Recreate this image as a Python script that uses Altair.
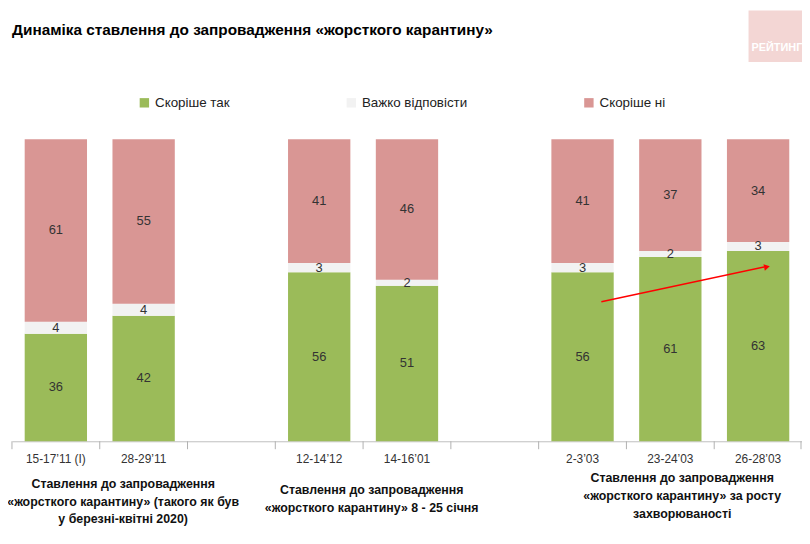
import altair as alt
import pandas as pd

# ---------------- data ----------------
dates = ["15-17’11 (I)", "28-29’11", "12-14’12", "14-16’01", "2-3’03", "23-24’03", "26-28’03"]
slots = [dates[0], dates[1], " ", dates[2], dates[3], "  ", dates[4], dates[5], dates[6]]
categories = ["Скоріше так", "Важко відповісти", "Скоріше ні"]
yes_vals = [36, 42, 56, 51, 56, 61, 63]
hard_vals = [4, 4, 3, 2, 3, 2, 3]
no_vals = [61, 55, 41, 46, 41, 37, 34]
colors = ["#9bbb59", "#f2f2f2", "#d99694"]

group_anchor = ["15-17’11 (I)", "12-14’12", "23-24’03"]
group_labels = [
    "Ставлення до запровадження\n«жорсткого карантину» (такого як був\nу березні-квітні 2020)",
    "Ставлення до запровадження\n«жорсткого карантину» 8 - 25 січня",
    "Ставлення до запровадження\n«жорсткого карантину» за росту\nзахворюваності",
]
title_text = "Динаміка ставлення до запровадження «жорсткого карантину»"
watermark = ["РЕЙТИНГ"]

# trend arrow (annotation)
arrow_from = ["2-3’03"]
arrow_to = ["26-28’03"]
arrow_y1 = [0.462]
arrow_y2 = [0.577]

rows = []
for i, d in enumerate(dates):
    for k, (cat, vals) in enumerate(zip(categories, [yes_vals, hard_vals, no_vals])):
        rows.append({"date": d, "category": cat, "value": vals[i], "order": k})
df = pd.DataFrame(rows)

FONT = "Liberation Sans, Arial"

W, H = 798, 305
STEP = W / len(slots)

xscale = alt.Scale(domain=slots, paddingInner=0.29, paddingOuter=0.145)
yscale = alt.Scale(domain=[0, 1])

xenc = alt.X(
    "date:N",
    scale=xscale,
    axis=alt.Axis(
        title=None,
        labelAngle=0,
        labelFont=FONT,
        labelFontSize=12,
        labelColor="#333333",
        labelPadding=12,
        ticks=False,
        domainColor="#bfbfbf",
        grid=False,
    ),
)

bars = alt.Chart(df).mark_bar().encode(
    x=xenc,
    y=alt.Y("value:Q", stack="normalize", axis=None, scale=yscale),
    color=alt.Color(
        "category:N",
        scale=alt.Scale(domain=categories, range=colors),
        legend=alt.Legend(
            title=None,
            orient="none",
            direction="horizontal",
            legendX=127,
            legendY=-44,
            symbolType="square",
            symbolSize=90,
            symbolStrokeWidth=0,
            labelFont=FONT,
            labelFontSize=13.5,
            labelColor="#222222",
            columnPadding=116,
            labelOffset=4,
        ),
    ),
    order=alt.Order("order:Q"),
)

labels = alt.Chart(df).transform_joinaggregate(
    total="sum(value)", groupby=["date"]
).transform_window(
    cum="sum(value)", groupby=["date"], sort=[alt.SortField("order")], frame=[None, 0]
).transform_calculate(
    mid="(datum.cum - datum.value / 2) / datum.total"
).mark_text(font=FONT, fontSize=13, color="#333333", baseline="middle").encode(
    x=alt.X("date:N", scale=xscale),
    y=alt.Y("mid:Q", scale=yscale),
    text="value:Q",
)

# separator ticks at slot boundaries
slot_df = pd.DataFrame({"slot": slots})
sep_ticks = alt.Chart(slot_df).mark_rule(color="#b0b0b0", strokeWidth=1, xOffset=-STEP / 2).encode(
    x=alt.X("slot:N", scale=xscale),
    y=alt.value(H),
    y2=alt.value(H + 8),
)
last_df = pd.DataFrame({"slot": [slots[-1]]})
sep_last = alt.Chart(last_df).mark_rule(color="#b0b0b0", strokeWidth=1, xOffset=STEP / 2 - 1).encode(
    x=alt.X("slot:N", scale=xscale),
    y=alt.value(H),
    y2=alt.value(H + 8),
)

arrow_df = pd.DataFrame({"a": arrow_from, "b": arrow_to, "y1": arrow_y1, "y2": arrow_y2})
arrow_line = alt.Chart(arrow_df).mark_rule(
    color="#ff0000", strokeWidth=1.6, xOffset=19, x2Offset=6
).encode(
    x=alt.X("a:N", scale=xscale),
    x2="b:N",
    y=alt.Y("y1:Q", scale=yscale),
    y2="y2:Q",
)
arrow_head = alt.Chart(arrow_df).mark_point(
    shape="triangle", filled=True, size=45, angle=78, color="#ff0000", opacity=1, xOffset=8
).encode(
    x=alt.X("b:N", scale=xscale),
    y=alt.Y("y2:Q", scale=yscale),
)

group_dx = [68, 53, 12]
group_y = [342, 348, 336]
group_layers = []
for anc, lab, dx, yy in zip(group_anchor, group_labels, group_dx, group_y):
    gdf = pd.DataFrame({"anchor": [anc], "label": [lab]})
    group_layers.append(
        alt.Chart(gdf).mark_text(
            font=FONT, fontSize=12.5, fontWeight="bold", color="#111111",
            lineBreak="\n", lineHeight=18, baseline="top", align="center", dx=dx,
        ).encode(
            x=alt.X("anchor:N", scale=xscale),
            y=alt.value(yy),
            text="label:N",
        )
    )

wm_df = pd.DataFrame({"t": watermark})
wm_rect = alt.Chart(wm_df).mark_rect(color="#f3d6d4").encode(
    x=alt.value(744), x2=alt.value(800), y=alt.value(-130), y2=alt.value(-78)
)
wm_text = alt.Chart(wm_df).mark_text(
    color="white", font=FONT, fontSize=11, fontWeight="bold", align="left", baseline="middle"
).encode(x=alt.value(747), y=alt.value(-92), text="t:N")

chart = alt.layer(
    bars, labels, sep_ticks, sep_last, arrow_line, arrow_head, *group_layers, wm_rect, wm_text
).properties(
    width=W,
    height=H,
    autosize=alt.AutoSizeParams(type="none"),
    padding={"left": 4, "top": 130, "right": 0, "bottom": 90},
    title=alt.TitleParams(
        title_text,
        anchor="start",
        offset=-28,
        dx=5,
        font=FONT,
        fontSize=15.5,
        fontWeight="bold",
        color="#000000",
    ),
).configure(background="white").configure_view(stroke=None)

chart.save("out.html", embed_options={"renderer": "svg", "actions": False})
